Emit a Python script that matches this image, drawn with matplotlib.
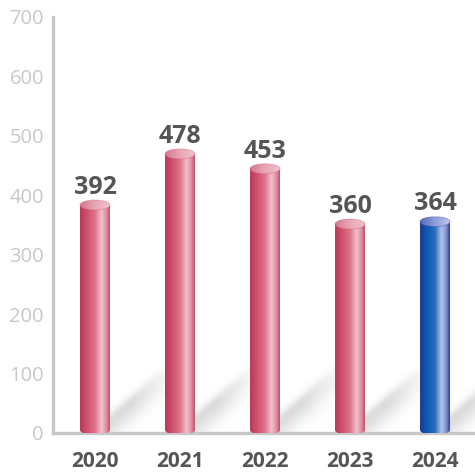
import numpy as np
import matplotlib
matplotlib.use("Agg")
import matplotlib.pyplot as plt
from matplotlib.colors import LinearSegmentedColormap
from matplotlib.path import Path
from matplotlib.patches import Ellipse, PathPatch

years = ["2020", "2021", "2022", "2023", "2024"]
values = [392, 478, 453, 360, 364]
highlight = [False, False, False, False, True]
yticks = [0, 100, 200, 300, 400, 500, 600, 700]

plt.rcParams['font.family'] = ['Open Sans', 'DejaVu Sans']

W = H = 475
fig = plt.figure(figsize=(W / 100, H / 100), dpi=100)
ax_l, ax_b, ax_t = 53, 433, 17
ax = fig.add_axes([ax_l / W, 1 - ax_b / H, (W - ax_l) / W, (ax_b - ax_t) / H])
xlim = (-0.494, 4.47)
ylim = (0, 700)

px_x = (W - ax_l) / (xlim[1] - xlim[0])   # pixels per x unit
px_y = (ax_b - ax_t) / (ylim[1] - ylim[0])  # pixels per y unit

# --- soft diagonal shadows behind bars ---
gw, gh = W - ax_l, ax_b - ax_t
gx, gy = np.meshgrid(np.arange(gw) + 0.5, np.arange(gh) + 0.5)
alpha = np.zeros_like(gx)
theta = np.deg2rad(41)
for i, v in enumerate(values):
    bx = (i - xlim[0]) * px_x + 4
    dx = gx - bx
    dy = gy
    along = dx * np.cos(theta) + dy * np.sin(theta)
    across = -dx * np.sin(theta) + dy * np.cos(theta)
    a0 = 2.0
    prof = np.where(across > a0, np.exp(-((across - a0) / 6.0) ** 2),
                    np.exp(-((across - a0) / 14.0) ** 2))
    fade = np.clip(along / 10, 0, 1) * np.clip((105 - along) / 60, 0, 1)
    alpha = np.maximum(alpha, prof * fade)
shadow = np.zeros((gh, gw, 4))
shadow[..., :3] = 0.6
shadow[..., 3] = alpha * 0.34
ax.imshow(shadow, extent=[xlim[0], xlim[1], ylim[0], ylim[1]], origin='lower',
          aspect='auto', zorder=1, interpolation='bilinear')

red_body = LinearSegmentedColormap.from_list("rb", [
    (0.0, "#b63a58"), (0.25, "#cf526f"), (0.5, "#de7389"), (0.72, "#f1c0cb"),
    (0.88, "#df8fa2"), (1.0, "#c24e6b")])
blue_body = LinearSegmentedColormap.from_list("bb", [
    (0.0, "#1c3890"), (0.25, "#0e5cb4"), (0.5, "#2a6cc0"), (0.72, "#b3c2ea"),
    (0.88, "#7f8fd0"), (1.0, "#2e3c9c")])
red_cap = LinearSegmentedColormap.from_list("rc", ["#d5778f", "#e9a6b5", "#f0c2cc"])
blue_cap = LinearSegmentedColormap.from_list("bc", ["#5468bc", "#8d9ed8", "#bcc5ec"])

bw = 30 / px_x          # bar width in x units
eh = 10 / px_y          # ellipse height in y units
grad = np.linspace(0, 1, 256)[None, :]

for i, (v, hl) in enumerate(zip(values, highlight)):
    x = i
    y0 = eh / 2 - 2 / px_y
    ytop = v - eh / 2
    body_cmap = blue_body if hl else red_body
    cap_cmap = blue_cap if hl else red_cap
    ang = np.linspace(np.pi, 2 * np.pi, 60)
    pts = [(x + bw / 2 * np.cos(a), y0 + eh / 2 * np.sin(a)) for a in ang]
    pts += [(x + bw / 2, ytop), (x - bw / 2, ytop), pts[0]]
    path = Path(pts)
    patch = PathPatch(path, facecolor='none', edgecolor='none', transform=ax.transData)
    ax.add_patch(patch)
    im = ax.imshow(grad, extent=[x - bw / 2, x + bw / 2, y0 - eh / 2, ytop],
                   aspect='auto', cmap=body_cmap, zorder=3, interpolation='bilinear')
    im.set_clip_path(patch)
    cap = Ellipse((x, ytop), bw, eh, facecolor='none', edgecolor='none', transform=ax.transData)
    ax.add_patch(cap)
    imc = ax.imshow(grad, extent=[x - bw / 2, x + bw / 2, ytop - eh / 2, ytop + eh / 2],
                    aspect='auto', cmap=cap_cmap, zorder=4, interpolation='bilinear')
    imc.set_clip_path(cap)
    ax.add_patch(Ellipse((x, ytop), bw, eh, facecolor='none',
                         edgecolor=(0.8, 0.35, 0.47, 0.45) if not hl else (0.2, 0.25, 0.6, 0.45),
                         linewidth=0.6, zorder=5))
    ax.annotate(str(v), (x, v), xytext=(0, 4.5), textcoords='offset points',
                ha='center', va='baseline', fontsize=18, fontweight='bold',
                color='#555555', zorder=6)

ax.set_xlim(*xlim)
ax.set_ylim(*ylim)
ax.set_xticks(range(len(years)))
ax.set_xticklabels(years, fontsize=15, fontweight='bold', color='#555555')
ax.set_yticks(yticks)
ax.set_yticklabels([str(t) for t in yticks], fontsize=14.5, color='#c8c8c8')
ax.tick_params(axis='x', length=0, pad=13)
ax.tick_params(axis='y', length=0, pad=6.5)
for s in ['top', 'right']:
    ax.spines[s].set_visible(False)
for s in ['left', 'bottom']:
    ax.spines[s].set_color('#c8c8c8')
    ax.spines[s].set_linewidth(2.4)
    ax.spines[s].set_zorder(2)
ax.patch.set_alpha(0)
fig.savefig("out.png", dpi=100, facecolor='white')
